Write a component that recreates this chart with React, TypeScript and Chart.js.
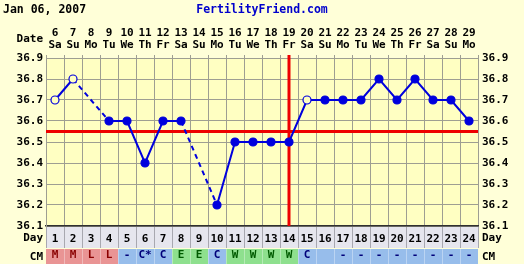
import React, { useEffect, useRef } from 'react';
import { Chart, registerables } from 'chart.js';

Chart.register(...registerables);

const chartDate = 'Jan 06, 2007';
const siteName = 'FertilityFriend.com';
const cycleDays = ['1', '2', '3', '4', '5', '6', '7', '8', '9', '10', '11', '12', '13', '14', '15', '16', '17', '18', '19', '20', '21', '22', '23', '24'];
const dates = ['6', '7', '8', '9', '10', '11', '12', '13', '14', '15', '16', '17', '18', '19', '20', '21', '22', '23', '24', '25', '26', '27', '28', '29'];
const weekdays = ['Sa', 'Su', 'Mo', 'Tu', 'We', 'Th', 'Fr', 'Sa', 'Su', 'Mo', 'Tu', 'We', 'Th', 'Fr', 'Sa', 'Su', 'Mo', 'Tu', 'We', 'Th', 'Fr', 'Sa', 'Su', 'Mo'];
const temps = [36.7, 36.8, null, 36.6, 36.6, 36.4, 36.6, 36.6, null, 36.2, 36.5, 36.5, 36.5, 36.5, 36.7, 36.7, 36.7, 36.7, 36.8, 36.7, 36.8, 36.7, 36.7, 36.6];
const openDays = ['1', '2', '15'];
const cmValues = ['M', 'M', 'L', 'L', '-', 'C*', 'C', 'E', 'E', 'C', 'W', 'W', 'W', 'W', 'C', '', '-', '-', '-', '-', '-', '-', '-', '-'];
const tempTicks = [36.1, 36.2, 36.3, 36.4, 36.5, 36.6, 36.7, 36.8, 36.9];
const coverline = 36.55;
const ovulationDay = '14';

const outerBg = '#FFFFD8';
const plotBg = '#FFFFC2';
const gridColor = '#9E9E92';
const lineBlue = '#0000DD';
const redLine = '#EE0000';
const FONT = 'DejaVu Sans Mono';

function cmStyle(v: string) {
  if (v === 'M' || v === 'L') return { bg: '#E99494', fg: '#8B0000' };
  if (v === 'E' || v === 'W') return { bg: '#8EE08E', fg: '#005A00' };
  return { bg: '#97BDEB', fg: '#00007A' };
}

const tickFont = { family: FONT, size: 11, weight: 'bold' as const, lineHeight: 1.1 };

const ffPlugin = {
  id: 'ffDecor',
  beforeDraw(chart: any) {
    const { ctx, chartArea: a, scales } = chart;
    const x = scales.x;
    const cm = scales.cm;
    const w = (a.right - a.left) / cycleDays.length;
    ctx.save();
    ctx.fillStyle = outerBg;
    ctx.fillRect(0, 0, chart.width, chart.height);
    ctx.fillStyle = plotBg;
    ctx.fillRect(a.left, a.top, a.right - a.left, a.bottom - a.top);
    // Day row
    ctx.fillStyle = '#E6E6EE';
    ctx.fillRect(a.left, x.top, a.right - a.left, x.bottom - x.top - 1);
    ctx.strokeStyle = '#A8A8B0';
    ctx.lineWidth = 1;
    for (let i = 0; i <= cycleDays.length; i++) {
      const px = Math.round(a.left + i * w) + 0.5;
      ctx.beginPath();
      ctx.moveTo(px, x.top);
      ctx.lineTo(px, x.bottom - 1);
      ctx.stroke();
    }
    // CM row
    cmValues.forEach((v, i) => {
      const c = x.getPixelForValue(i);
      ctx.fillStyle = cmStyle(v).bg;
      ctx.fillRect(c - w / 2, cm.top, w, cm.bottom - cm.top);
    });
    ctx.strokeStyle = 'rgba(255,255,255,0.35)';
    for (let i = 1; i < cycleDays.length; i++) {
      const px = Math.round(a.left + i * w) + 0.5;
      ctx.beginPath();
      ctx.moveTo(px, cm.top);
      ctx.lineTo(px, cm.bottom);
      ctx.stroke();
    }
    ctx.restore();
  },
  beforeDatasetsDraw(chart: any) {
    const { ctx, chartArea: a, scales } = chart;
    const y = scales.y;
    const x = scales.x;
    ctx.save();
    ctx.strokeStyle = redLine;
    ctx.lineWidth = 3;
    const cy = y.getPixelForValue(coverline);
    ctx.beginPath();
    ctx.moveTo(a.left, cy);
    ctx.lineTo(a.right, cy);
    ctx.stroke();
    const ox = x.getPixelForValue(cycleDays.indexOf(ovulationDay));
    ctx.beginPath();
    ctx.moveTo(ox, a.top - 3);
    ctx.lineTo(ox, a.bottom);
    ctx.stroke();
    ctx.restore();
  },
  afterDraw(chart: any) {
    const { ctx, chartArea: a, scales } = chart;
    const x = scales.x;
    const cm = scales.cm;
    ctx.save();
    ctx.textBaseline = 'middle';
    ctx.font = `bold 11.5px "${FONT}"`;
    ctx.fillStyle = '#000000';
    ctx.textAlign = 'left';
    ctx.fillText(chartDate, 3, 10);
    ctx.fillStyle = '#0000CC';
    ctx.textAlign = 'center';
    ctx.fillText(siteName, chart.width / 2, 10);
    ctx.font = `bold 11px "${FONT}"`;
    ctx.fillStyle = '#000000';
    ctx.textAlign = 'right';
    ctx.fillText('Date', a.left - 3, 39);
    const dayY = (x.top + x.bottom) / 2 + 1;
    const cmY = (cm.top + cm.bottom) / 2 + 0.5;
    ctx.fillText('Day', a.left - 3, dayY);
    ctx.fillText('CM', a.left - 3, cmY);
    ctx.textAlign = 'left';
    ctx.fillText('Day', a.right + 4, dayY);
    ctx.fillText('CM', a.right + 4, cmY);
    ctx.restore();
  },
};

const yAxisBase = {
  type: 'linear' as const,
  min: 36.1,
  max: 36.9,
  afterBuildTicks: (s: any) => {
    s.ticks = tempTicks.map((v) => ({ value: v }));
  },
  ticks: {
    font: tickFont,
    color: '#000000',
    callback: (v: any) => Number(v).toFixed(1),
  },
};

export default function App() {
  const canvasRef = useRef<HTMLCanvasElement | null>(null);

  useEffect(() => {
    document.body.style.margin = '0';
    const canvas = canvasRef.current;
    if (!canvas) return;
    const chart = new Chart(canvas, {
      type: 'line',
      data: {
        labels: cycleDays,
        datasets: [
          {
            data: temps as any,
            xAxisID: 'x',
            yAxisID: 'y',
            borderColor: lineBlue,
            borderWidth: 2,
            spanGaps: true,
            pointRadius: 4,
            pointHoverRadius: 4,
            pointBorderWidth: 1.2,
            pointBorderColor: lineBlue,
            pointBackgroundColor: (ctx: any) =>
              openDays.includes(cycleDays[ctx.dataIndex]) ? plotBg : lineBlue,
            segment: {
              borderDash: (ctx: any) => (ctx.p0.skip || ctx.p1.skip ? [5, 4] : undefined),
            },
          },
        ],
      },
      options: {
        responsive: false,
        animation: false,
        events: [],
        layout: { padding: 0 },
        plugins: { legend: { display: false }, tooltip: { enabled: false }, title: { display: false } },
        scales: {
          x: {
            type: 'category',
            position: 'bottom',
            labels: cycleDays,
            offset: true,
            weight: 0,
            grid: { offset: true, color: gridColor, drawTicks: false, lineWidth: 1 },
            border: { display: true, color: '#303030', width: 1.5 },
            ticks: { font: tickFont, color: '#000000', padding: 7, autoSkip: false, maxRotation: 0 },
            afterFit: (s: any) => {
              s.height = 23;
            },
          },
          cm: {
            type: 'category',
            position: 'bottom',
            labels: cmValues,
            offset: true,
            weight: 1,
            grid: { display: false, drawTicks: false },
            border: { display: false },
            ticks: {
              font: tickFont,
              color: (ctx: any) => cmStyle(cmValues[ctx.index]).fg,
              padding: 0,
              autoSkip: false,
              maxRotation: 0,
            },
            afterFit: (s: any) => {
              s.height = 15;
            },
          },
          top: {
            type: 'category',
            position: 'top',
            labels: dates.map((d, i) => [d, weekdays[i]]) as any,
            offset: true,
            grid: { offset: true, drawOnChartArea: false, drawTicks: true, tickLength: 3, color: gridColor },
            border: { display: false },
            ticks: { font: tickFont, color: '#000000', padding: 4, autoSkip: false, maxRotation: 0 },
            afterFit: (s: any) => {
              s.height = 58;
            },
          },
          y: {
            ...yAxisBase,
            position: 'left',
            grid: { color: gridColor, drawTicks: false },
            border: { color: gridColor },
            ticks: { ...yAxisBase.ticks, padding: 3 },
            afterFit: (s: any) => {
              s.width = 46;
            },
          },
          y2: {
            ...yAxisBase,
            position: 'right',
            grid: { display: false, drawTicks: false },
            border: { display: false },
            ticks: { ...yAxisBase.ticks, padding: 4 },
            afterFit: (s: any) => {
              s.width = 46;
            },
          },
        } as any,
      },
      plugins: [ffPlugin],
    });
    return () => chart.destroy();
  }, []);

  return (
    <div style={{ width: 524, height: 264 }}>
      <canvas ref={canvasRef} width={524} height={264} style={{ display: 'block' }} />
    </div>
  );
}
